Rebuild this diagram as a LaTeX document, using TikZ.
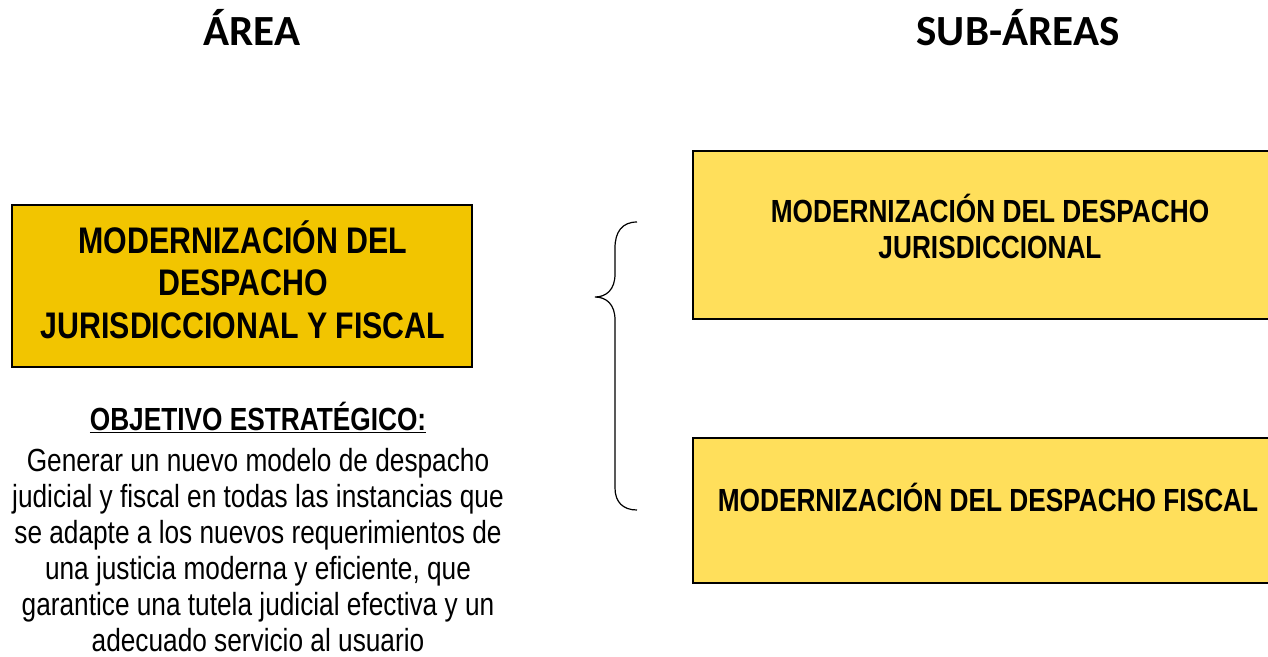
\documentclass[tikz,border=0pt]{standalone}
\usepackage{fontspec}
\setmainfont{Liberation Sans}[FakeStretch=0.82]
\newfontfamily\titlefont{Carlito}
\definecolor{gold}{RGB}{242,197,0}
\definecolor{lightgold}{RGB}{255,223,91}
\tikzset{
  boxbase/.style={draw=black, line width=1.3pt, inner sep=0pt},
  areabox/.style={boxbase, fill=gold},
  subbox/.style={boxbase, fill=lightgold},
  titletext/.style={font=\titlefont\bfseries\fontsize{43}{50}\selectfont, inner sep=0pt, anchor=base},
  areatext/.style={font=\bfseries\fontsize{37}{42.5}\selectfont, align=center, inner sep=0pt, anchor=base},
  subtext/.style={font=\bfseries\fontsize{32}{36}\selectfont, align=center, inner sep=0pt, anchor=base},
  objtitle/.style={font=\bfseries\fontsize{32}{36}\selectfont, inner sep=0pt, anchor=base},
  objtext/.style={font=\fontsize{32}{36}\selectfont, align=center, inner sep=0pt, anchor=base},
  bracestyle/.style={draw=black, line width=1.2pt}
}
\begin{document}
\begin{tikzpicture}[x=1pt,y=-1pt]
\useasboundingbox (0,0) rectangle (1268,656);
\node[titletext] (t1) at (252,45) {ÁREA};
\node[titletext] (t2) at (1018,45) {SUB-ÁREAS};
% left box
\node[areabox, minimum width=460pt, minimum height=162pt] (area) at (242,286) {};
\node[areatext] (areal) at (243,338) {MODERNIZACIÓN DEL\\DESPACHO\\JURISDICCIONAL Y FISCAL};
% objective
\node[objtitle] (objt) at (258,430) {\underline{OBJETIVO ESTRATÉGICO:}};
\node[objtext] (objb) at (258,651) {Generar un nuevo modelo de despacho\\judicial y fiscal en todas las instancias que\\se adapte a los nuevos requerimientos de\\una justicia moderna y eficiente, que\\garantice una tutela judicial efectiva y un\\adecuado servicio al usuario};
% sub boxes
\node[subbox, minimum width=597pt, minimum height=168pt] (sub1) at (991.5,235) {};
\node[subtext] (sub1l) at (990,258) {MODERNIZACIÓN DEL DESPACHO\\JURISDICCIONAL};
\node[subbox, minimum width=597pt, minimum height=145pt] (sub2) at (991.5,510.5) {};
\node[subtext] (sub2l) at (988,511) {MODERNIZACIÓN DEL DESPACHO FISCAL};
% brace
\coordinate (bt) at (637,222);
\coordinate (bm) at (595,297);
\coordinate (bb) at (637,510);
\draw[bracestyle] (bt) .. controls (622,222) and (615,232) .. (615,248)
  -- (615,274) .. controls (615,290) and (606,297) .. (bm)
  .. controls (606,297) and (615,304) .. (615,320)
  -- (615,488) .. controls (615,502) and (623,510) .. (bb);
\end{tikzpicture}
\end{document}
